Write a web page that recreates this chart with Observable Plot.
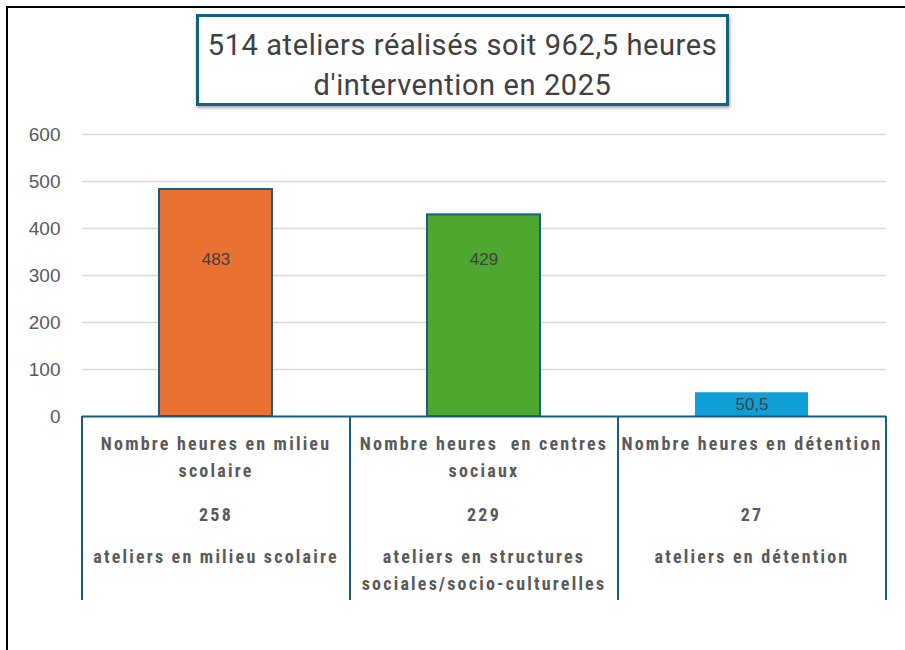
<!DOCTYPE html>
<html><head><meta charset="utf-8">
<script src="https://cdn.jsdelivr.net/npm/d3@7"></script>
<script src="https://cdn.jsdelivr.net/npm/@observablehq/plot@0.6"></script>
<style>
body{margin:0;background:#fff;}
#wrap{position:relative;width:905px;height:650px;overflow:hidden;font-family:"Liberation Sans",Arial,sans-serif;}
#frame{position:absolute;left:6px;top:6px;width:905px;height:650px;border-left:2px solid #000;border-top:2px solid #000;}
#chart{position:absolute;left:0;top:0;}
#chart g[font-weight="bold"] text{letter-spacing:2.2px;}
#title{position:absolute;left:196px;top:14px;width:527px;height:78px;padding-top:8px;border:3px solid #156082;box-shadow:1px 2px 3px rgba(0,0,0,0.35);background:#fff;
  text-align:center;font-family:Roboto,"Liberation Sans",sans-serif;font-size:29px;letter-spacing:0.6px;line-height:40px;color:#404040;}
</style></head>
<body>
<div id="wrap">
  <div id="frame"></div>
  <div id="chart"></div>
  <div id="title">514 ateliers réalisés soit 962,5 heures<br>d'intervention en 2025</div>
</div>
<script>
// ---- data ----
const categories = ["milieu scolaire", "centres sociaux", "détention"];
const heures = [483, 429, 50.5];
const heuresLabels = ["483", "429", "50,5"];
const ateliers = [258, 229, 27];
const headings = ["Nombre heures en milieu\nscolaire", "Nombre heures  en centres\nsociaux", "Nombre heures en détention"];
const atelierTexts = ["ateliers en milieu scolaire", "ateliers en structures\nsociales/socio-culturelles", "ateliers en détention"];
const yTicks = [0, 100, 200, 300, 400, 500, 600];

const data = categories.map((c, i) => ({
  cat: c, value: heures[i], label: heuresLabels[i],
  heading: headings[i], count: String(ateliers[i]), text: atelierTexts[i]
}));

// ---- styles / layout ----
const palette = {"milieu scolaire": "#E97132", "centres sociaux": "#4EA72E", "détention": "#0F9ED5"};
const outline = {"milieu scolaire": "#156082", "centres sociaux": "#156082", "détention": "none"};
const W = 905, H = 650, mL = 82, mR = 19, mT = 134, mB = 234;
const step = (W - mL - mR) / categories.length;
const plotH = H - mT - mB;
const cellDepthPx = 184;
const cellBottom = -cellDepthPx * 600 / plotH;
const narrow = "'Liberation Sans Narrow','Roboto Condensed',sans-serif";
const labelInside = 335;

const chart = Plot.plot({
  width: W, height: H,
  marginLeft: mL, marginRight: mR, marginTop: mT, marginBottom: mB,
  style: {background: "transparent", color: "#595959", fontFamily: "'Liberation Sans',Arial,sans-serif", overflow: "visible"},
  x: {domain: categories, paddingInner: 0.578, paddingOuter: 0.289, axis: null},
  y: {domain: [0, 600], axis: null},
  marks: [
    Plot.gridY(yTicks, {stroke: "#d9d9d9", strokeWidth: 1.5, strokeOpacity: 1}),
    Plot.axisY(yTicks, {tickSize: 0, tickPadding: 22, fontSize: 19, label: null}),
    Plot.barY(data, {x: "cat", y: "value", fill: d => palette[d.cat], stroke: d => outline[d.cat], strokeWidth: 2}),
    Plot.text(data, {x: "cat", y: d => d.value >= 100 ? labelInside : d.value / 2, text: "label",
      fontSize: 17, fill: "#404040"}),
    Plot.ruleY([0], {stroke: "#156082", strokeWidth: 2}),
    Plot.ruleX(data, {x: "cat", dx: -step / 2, y1: 0, y2: cellBottom, stroke: "#156082", strokeWidth: 2}),
    Plot.ruleX(data.slice(-1), {x: "cat", dx: step / 2, y1: 0, y2: cellBottom, stroke: "#156082", strokeWidth: 2}),
    Plot.text(data, {x: "cat", y: 0, dy: 14, text: "heading", lineAnchor: "top", lineHeight: 1.5,
      fontSize: 18, fontWeight: "bold", fontFamily: narrow, fill: "#595959"}),
    Plot.text(data, {x: "cat", y: 0, dy: 92, text: "count", lineAnchor: "top",
      fontSize: 18, fontWeight: "bold", fontFamily: narrow, fill: "#595959"}),
    Plot.text(data, {x: "cat", y: 0, dy: 127, text: "text", lineAnchor: "top", lineHeight: 1.5,
      fontSize: 18, fontWeight: "bold", fontFamily: narrow, fill: "#595959"})
  ]
});
document.getElementById("chart").appendChild(chart);
</script>
</body></html>
